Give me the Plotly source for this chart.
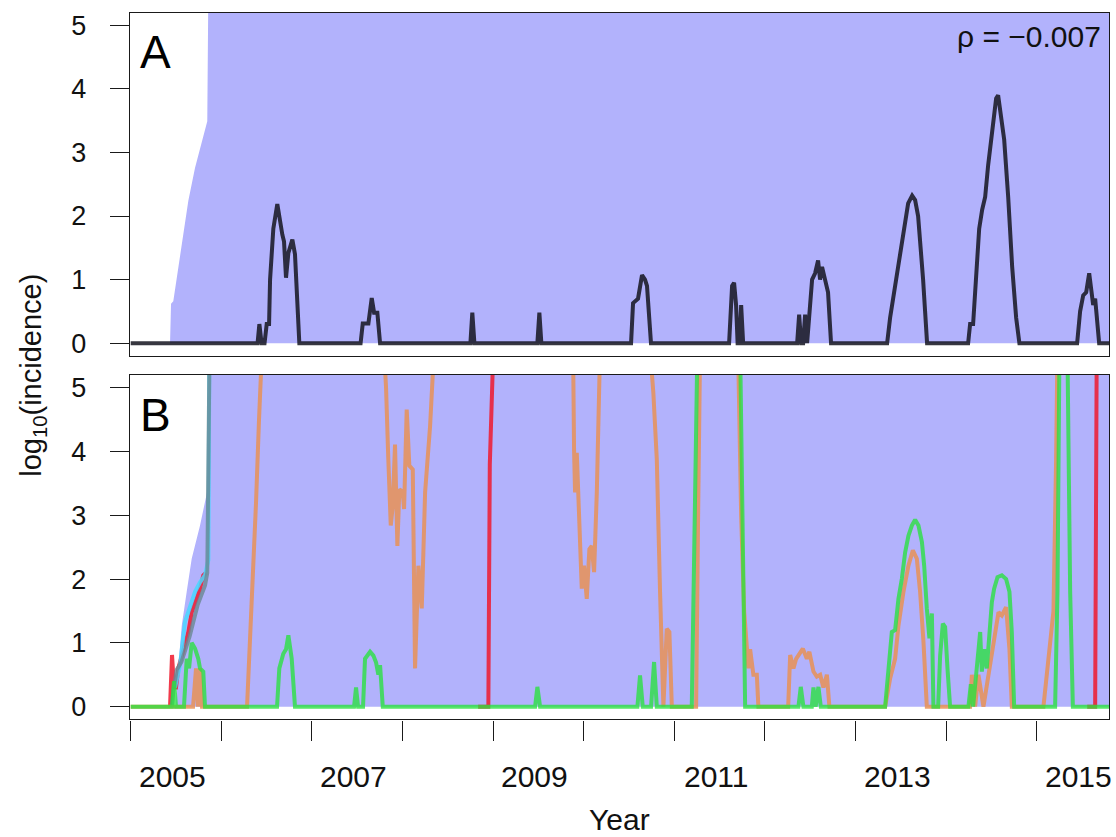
import plotly.graph_objects as go

# ---------------- data (decimal years, log10 incidence) ----------------
y_ticks = [0, 1, 2, 3, 4, 5]
x_tick_years = list(range(2005, 2016))
x_label_years = [2005, 2007, 2009, 2011, 2013, 2015]
rho_text = "ρ = −0.007"

# Panel A: observed incidence
A_years = [2005.000, 2006.400, 2006.420, 2006.444, 2006.477, 2006.501, 2006.527, 2006.538,
           2006.574, 2006.618, 2006.673, 2006.692, 2006.714, 2006.740, 2006.784, 2006.813,
           2006.861, 2007.537, 2007.561, 2007.623, 2007.660, 2007.686, 2007.722, 2007.752,
           2008.749, 2008.770, 2008.793, 2009.488, 2009.510, 2009.532,
           2010.522, 2010.544, 2010.599, 2010.643, 2010.676, 2010.698, 2010.742,
           2011.604, 2011.637, 2011.659, 2011.681, 2011.698, 2011.720, 2011.737, 2011.759,
           2012.355, 2012.377, 2012.399, 2012.421, 2012.443, 2012.465, 2012.487, 2012.520,
           2012.553, 2012.586, 2012.608, 2012.630, 2012.663, 2012.696, 2012.729,
           2013.348, 2013.381, 2013.436, 2013.492, 2013.536, 2013.580, 2013.624, 2013.657,
           2013.690, 2013.723, 2013.745, 2013.767, 2013.789,
           2014.242, 2014.264, 2014.297, 2014.330, 2014.364, 2014.397, 2014.430, 2014.463,
           2014.507, 2014.551, 2014.573, 2014.606, 2014.640, 2014.684, 2014.728, 2014.772,
           2014.808,
           2015.445, 2015.478, 2015.512, 2015.545, 2015.578, 2015.600, 2015.622, 2015.644,
           2015.666, 2015.688, 2015.800]
A_values = [0, 0, 0.30, 0, 0, 0.30, 0.30, 1.00,
            1.80, 2.19, 1.71, 1.60, 1.03, 1.42, 1.63, 1.40,
            0, 0, 0.31, 0.31, 0.71, 0.48, 0.48, 0,
            0, 0.48, 0, 0, 0.48, 0,
            0, 0.63, 0.70, 1.07, 1.00, 0.90, 0,
            0, 0.90, 0.95, 0.60, 0, 0, 0.60, 0,
            0, 0.45, 0, 0, 0.45, 0, 0.50, 1.00,
            1.10, 1.30, 1.00, 1.20, 1.00, 0.80, 0,
            0, 0.40, 0.90, 1.50, 1.90, 2.20, 2.32, 2.25,
            2.00, 1.50, 1.00, 0.50, 0,
            0, 0.30, 0.30, 1.00, 1.80, 2.10, 2.30, 2.80,
            3.40, 3.85, 3.90, 3.60, 3.20, 2.30, 1.20, 0.40,
            0,
            0, 0.50, 0.75, 0.80, 1.10, 0.90, 0.60, 0.70,
            0.40, 0, 0]

# Prediction envelopes (upper bound; values above 5.2 run off the panel)
A_band_years = [2005.434, 2005.445, 2005.470, 2005.525, 2005.581, 2005.636, 2005.710,
                2005.784, 2005.845, 2005.857, 2015.800]
A_band_upper = [0, 0.62, 0.66, 1.19, 1.71, 2.24, 2.76, 3.18, 3.49, 5.6, 5.6]
B_band_years = [2005.500, 2005.511, 2005.533, 2005.563, 2005.618, 2005.673, 2005.765,
                2005.842, 2005.853, 2005.864, 2015.800]
B_band_upper = [0, 0.50, 0.75, 1.27, 1.80, 2.32, 2.84, 3.36, 3.80, 5.6, 5.6]

# Panel B: simulated / predicted trajectories
B_orange_years = [2005.000, 2005.688, 2005.721, 2005.743, 2005.765, 2005.787,
                  2006.284, 2006.317, 2006.350, 2006.383, 2006.416, 2006.449,
                  2007.796, 2007.818, 2007.843, 2007.870, 2007.892, 2007.917, 2007.943,
                  2007.965, 2008.002, 2008.017, 2008.046, 2008.075, 2008.113, 2008.138,
                  2008.175, 2008.212, 2008.249, 2008.304, 2008.348,
                  2009.882, 2009.893, 2009.904, 2009.923, 2009.941, 2009.978, 2010.003,
                  2010.033, 2010.062, 2010.088, 2010.114, 2010.144, 2010.180,
                  2010.732, 2010.768, 2010.806, 2010.842, 2010.879, 2010.916, 2010.945,
                  2010.972, 2011.240, 2011.262, 2011.284,
                  2011.703, 2011.737, 2011.770, 2011.799, 2011.817, 2011.836, 2011.872,
                  2011.910, 2011.927,
                  2012.256, 2012.278, 2012.314, 2012.344, 2012.418, 2012.462, 2012.490,
                  2012.535, 2012.572, 2012.609, 2012.645, 2012.683, 2012.711,
                  2013.326, 2013.381, 2013.436, 2013.473, 2013.528, 2013.583, 2013.632,
                  2013.676, 2013.712, 2013.749, 2013.786,
                  2014.264, 2014.283, 2014.319, 2014.356, 2014.411, 2014.466, 2014.521,
                  2014.577, 2014.614, 2014.661, 2014.698, 2014.724,
                  2015.073, 2015.111, 2015.147, 2015.184, 2015.213, 2015.228, 2015.800]
B_orange_values = [0, 0, 0.60, 0, 0.60, 0,
                   0, 1.00, 2.10, 3.20, 4.50, 5.6,
                   5.6, 5.00, 3.88, 2.84, 3.15, 4.11, 2.52,
                   3.41, 3.36, 3.10, 4.66, 3.78, 3.72, 0.60,
                   2.21, 1.54, 3.36, 4.40, 5.6,
                   5.6, 4.03, 3.36, 3.98, 3.36, 1.85, 2.21,
                   1.69, 2.47, 2.52, 2.11, 3.36, 5.6,
                   5.6, 4.92, 3.88, 1.80, 0, 1.22, 1.17,
                   0, 0, 3.00, 5.6,
                   5.6, 3.00, 1.50, 1.02, 0.60, 0.90, 0.50,
                   0.50, 0,
                   0, 0.81, 0.60, 0.75, 0.91, 0.75, 0.86,
                   0.55, 0.47, 0.50, 0.30, 0.50, 0,
                   0, 0.44, 0.75, 1.27, 1.80, 2.21, 2.45,
                   2.32, 1.80, 1.02, 0,
                   0, 0.50, 0, 0.50, 0, 0.50, 1.00,
                   1.48, 1.43, 1.56, 0.90, 0,
                   0, 0.55, 1.00, 1.50, 3.88, 5.6, 5.6]

B_green_years = [2005.000, 2005.456, 2005.478, 2005.500, 2005.588, 2005.618, 2005.644,
                 2005.673, 2005.710, 2005.746, 2005.765, 2005.801, 2005.820,
                 2006.615, 2006.640, 2006.684, 2006.714, 2006.740, 2006.777, 2006.795, 2006.813,
                 2007.465, 2007.487, 2007.509, 2007.564, 2007.586, 2007.642, 2007.678,
                 2007.708, 2007.733, 2007.752, 2007.782,
                 2009.463, 2009.488, 2009.518,
                 2010.592, 2010.621, 2010.651, 2010.743, 2010.776, 2010.806,
                 2011.192, 2011.210, 2011.229, 2011.254, 2011.726, 2011.762, 2011.781,
                 2012.369, 2012.395, 2012.424, 2012.517, 2012.535, 2012.559, 2012.590, 2012.616,
                 2013.326, 2013.362, 2013.400, 2013.436, 2013.473, 2013.510, 2013.547,
                 2013.583, 2013.621, 2013.657, 2013.694, 2013.732, 2013.757, 2013.786,
                 2013.815, 2013.842, 2013.859, 2013.911, 2013.933, 2013.963, 2013.988,
                 2014.014, 2014.043,
                 2014.245, 2014.272, 2014.297, 2014.338, 2014.375, 2014.393, 2014.419,
                 2014.448, 2014.477, 2014.504, 2014.529, 2014.566, 2014.614, 2014.661,
                 2014.698, 2014.724, 2014.750,
                 2015.202, 2015.228, 2015.250, 2015.338, 2015.368, 2015.398, 2015.800]
B_green_values = [0, 0, 0.40, 0, 0, 0.75, 0.60,
                  1.00, 0.91, 0.75, 0.60, 0.55, 0,
                  0, 0.60, 0.83, 0.90, 1.12, 0.75, 0.30, 0,
                  0, 0.30, 0, 0, 0.75, 0.86, 0.80,
                  0.69, 0.50, 0.65, 0,
                  0, 0.31, 0,
                  0, 0.49, 0, 0, 0.70, 0,
                  0, 1.80, 4.14, 5.6, 5.6, 1.80, 0,
                  0, 0.31, 0, 0, 0.30, 0, 0.31, 0,
                  0, 0.60, 1.17, 1.20, 1.69, 2.00, 2.42,
                  2.68, 2.84, 2.93, 2.84, 2.58, 2.21, 1.54,
                  1.07, 1.46, 0, 0, 0.80, 1.30, 1.25,
                  0.60, 0,
                  0, 0.35, 0, 0.60, 1.17, 0.55, 0.90,
                  0.60, 1.20, 1.64, 1.85, 2.03, 2.06, 2.00,
                  1.80, 1.17, 0,
                  0, 1.80, 5.6, 5.6, 1.80, 0, 0]

B_red_years = [2005.434, 2005.456, 2005.478, 2005.500, 2005.525, 2005.581, 2005.636,
               2005.673, 2005.729, 2005.765, 2005.801, 2005.831, None,
               2008.834, 2008.947, 2008.963, 2008.979, 2009.002, None,
               2015.556, 2015.644, 2015.661]
B_red_values = [0, 0.81, 0.30, 0.30, 0.60, 0.91, 1.17,
                1.48, 1.69, 1.85, 2.06, 2.10, None,
                0, 0, 3.80, 4.90, 5.6, None,
                0, 0, 5.6]

B_cyan_years = [2005.489, 2005.544, 2005.599, 2005.654, 2005.710, 2005.765, 2005.820,
                2005.857, 2005.868]
B_cyan_values = [0.30, 0.65, 1.33, 1.59, 1.80, 1.95, 2.06, 2.30, 5.6]

B_gray_years = [2005.456, 2005.470, 2005.508, 2005.560, 2005.650, 2005.740, 2005.820,
                2005.845, 2005.870]
B_gray_values = [0, 0.24, 0.58, 0.70, 1.10, 1.60, 1.90, 2.10, 5.6]

# ---------------- styling ----------------
FONT = "Liberation Sans, Arial, Helvetica, sans-serif"
BAND = "rgb(178,178,252)"
AXC = "#1a1a1a"
W, H = 1116, 837
X_RANGE = [2004.99, 2015.80]
Y_RANGE = [-0.2, 5.2]

fig = go.Figure()

# Panel A
fig.add_trace(go.Scatter(x=A_band_years, y=A_band_upper, mode="lines", fill="tozeroy",
                         fillcolor=BAND, line=dict(width=0, color=BAND),
                         xaxis="x", yaxis="y", hoverinfo="skip"))
fig.add_trace(go.Scatter(x=A_years, y=A_values, mode="lines",
                         line=dict(color="rgba(20,20,30,0.85)", width=4),
                         xaxis="x", yaxis="y"))

# Panel B
fig.add_trace(go.Scatter(x=B_band_years, y=B_band_upper, mode="lines", fill="tozeroy",
                         fillcolor=BAND, line=dict(width=0, color=BAND),
                         xaxis="x2", yaxis="y2", hoverinfo="skip"))
series_B = [
    (B_red_years, B_red_values, "rgba(238,25,45,0.85)"),
    (B_cyan_years, B_cyan_values, "rgba(70,215,255,0.85)"),
    (B_gray_years, B_gray_values, "rgba(105,135,145,0.8)"),
    (B_orange_years, B_orange_values, "rgba(232,145,85,0.85)"),
    (B_green_years, B_green_values, "rgba(40,225,60,0.78)"),
]
for xs, ys, col in series_B:
    fig.add_trace(go.Scatter(x=xs, y=ys, mode="lines", line=dict(color=col, width=4),
                             connectgaps=False, xaxis="x2", yaxis="y2"))

x_dom = [129.8 / W, 1109.3 / W]
yA_dom = [(H - 356.0) / H, (H - 10.7) / H]
yB_dom = [(H - 721.7) / H, (H - 375.3) / H]

common_x = dict(range=X_RANGE, domain=x_dom, showgrid=False, zeroline=False,
                showline=True, mirror=True, linecolor=AXC, linewidth=1.4)
common_y = dict(range=Y_RANGE, showgrid=False, zeroline=False, showline=True, mirror=True,
                linecolor=AXC, linewidth=1.4, tickmode="array", tickvals=y_ticks,
                ticks="outside", ticklen=19, tickwidth=1.4, tickcolor=AXC,
                tickfont=dict(family=FONT, size=27, color="#111"), ticklabelstandoff=18)

fig.update_layout(
    width=W, height=H, margin=dict(l=0, r=0, t=0, b=0),
    paper_bgcolor="white", plot_bgcolor="white", showlegend=False,
    xaxis=dict(**common_x, anchor="y", showticklabels=False, ticks=""),
    yaxis=dict(**common_y, domain=yA_dom, anchor="x"),
    xaxis2=dict(**common_x, anchor="y2", showticklabels=False, tickmode="array",
                tickvals=x_tick_years, ticks="outside", ticklen=20, tickwidth=1.4,
                tickcolor=AXC),
    yaxis2=dict(**common_y, domain=yB_dom, anchor="x2"),
)

ann = []
for yr in x_label_years:
    ann.append(dict(x=yr + 0.46, y=(H - 779) / H, xref="x2", yref="paper", text=str(yr),
                    showarrow=False, xanchor="center", yanchor="middle",
                    font=dict(family=FONT, size=30, color="#111")))
ann.append(dict(x=619.5 / W, y=(H - 822) / H, xref="paper", yref="paper", text="Year",
                showarrow=False, xanchor="center", yanchor="middle",
                font=dict(family=FONT, size=30, color="#111")))
ann.append(dict(x=33 / W, y=(H - 376) / H, xref="paper", yref="paper",
                text="log<sub>10</sub>(incidence)", textangle=-90, showarrow=False,
                xanchor="center", yanchor="middle",
                font=dict(family=FONT, size=29, color="#111")))
ann.append(dict(x=155 / W, y=(H - 50) / H, xref="paper", yref="paper", text="A",
                showarrow=False, xanchor="center", yanchor="middle",
                font=dict(family=FONT, size=46, color="#000")))
ann.append(dict(x=155 / W, y=(H - 415) / H, xref="paper", yref="paper", text="B",
                showarrow=False, xanchor="center", yanchor="middle",
                font=dict(family=FONT, size=46, color="#000")))
ann.append(dict(x=1103 / W, y=(H - 35) / H, xref="paper", yref="paper", text=rho_text,
                showarrow=False, xanchor="right", yanchor="middle",
                font=dict(family=FONT, size=30, color="#111")))
fig.update_layout(annotations=ann)

fig.write_html("out.html")
